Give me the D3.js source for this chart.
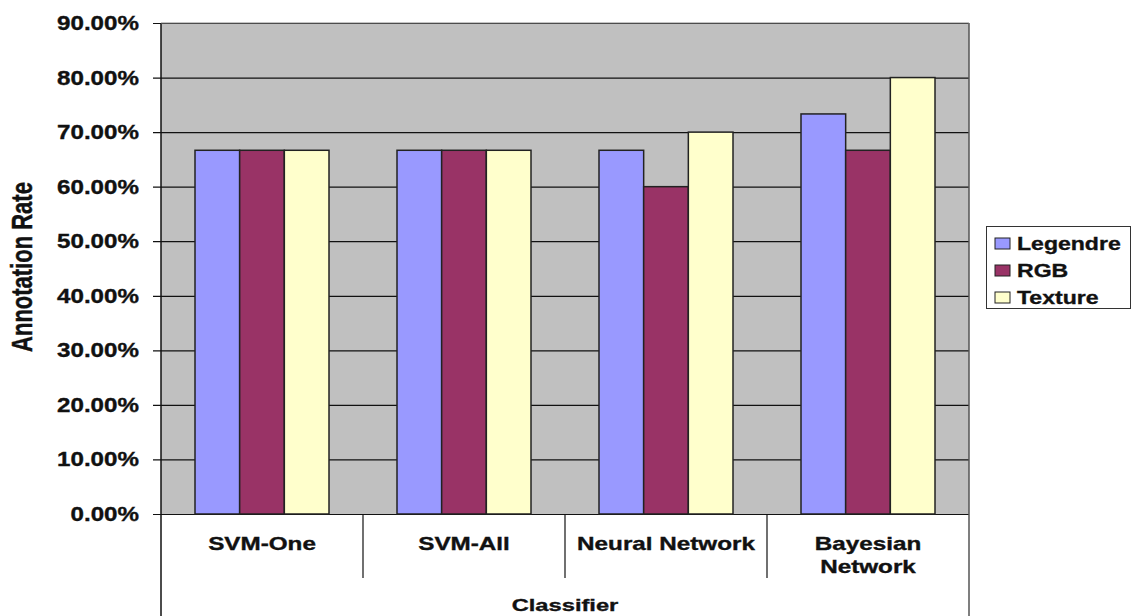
<!DOCTYPE html>
<html>
<head>
<meta charset="utf-8">
<script src="https://cdn.jsdelivr.net/npm/d3@7"></script>
<style>
  body { margin: 0; background: #fff; }
  text { font-family: Arial, "Liberation Sans", sans-serif; font-weight: bold; fill: #111; stroke: #111; stroke-width: 0.35px; }
</style>
</head>
<body>
<svg width="1132" height="616"></svg>
<script>
// chart data
var classifiers = [['SVM-One'], ['SVM-All'], ['Neural Network'], ['Bayesian', 'Network']];
var seriesNames = ['Legendre', 'RGB', 'Texture'];
var legendreVals = [66.67, 66.67, 66.67, 73.33];
var rgbVals = [66.67, 66.67, 60.0, 66.67];
var textureVals = [66.67, 66.67, 70.0, 80.0];
var yTicks = [0, 10, 20, 30, 40, 50, 60, 70, 80, 90];
var colors = ['#9999FF', '#993366', '#FFFFCC'];

var svg = d3.select('svg');
var plot = {l: 161, r: 969, t: 23, b: 514};

var seriesVals = [legendreVals, rgbVals, textureVals];
var keys = classifiers.map(function(c) { return c.join(' '); });

var x0 = d3.scaleBand().domain(keys).range([plot.l, plot.r]);
var x1 = d3.scaleBand().domain(seriesNames).range([34, x0.bandwidth() - 34]);
var y = d3.scaleLinear().domain([0, 90]).range([plot.b, plot.t]);

// plot background
svg.append('rect')
    .attr('x', plot.l).attr('y', plot.t)
    .attr('width', plot.r - plot.l).attr('height', plot.b - plot.t)
    .attr('fill', '#C0C0C0');

// gridlines + tick marks
svg.append('g')
    .selectAll('line')
    .data(yTicks)
    .enter()
    .append('line')
    .attr('x1', plot.l - 8).attr('x2', plot.r)
    .attr('y1', function(d) { return y(d) + 0.5; })
    .attr('y2', function(d) { return y(d) + 0.5; })
    .attr('stroke', '#111').attr('stroke-width', 1.2);

// y tick labels (original picture is stretched sideways, so text is widened)
svg.append('g')
    .selectAll('text')
    .data(yTicks)
    .enter()
    .append('text')
    .attr('transform', function(d) { return 'translate(139,' + y(d) + ') scale(1.24,1)'; })
    .attr('dy', '0.36em')
    .attr('text-anchor', 'end')
    .style('font-size', '19.5px')
    .text(function(d) { return d3.format('.2f')(d) + '%'; });

// bars
var groups = svg.append('g')
    .selectAll('g')
    .data(keys)
    .enter()
    .append('g')
    .attr('transform', function(d) { return 'translate(' + x0(d) + ',0)'; });

groups.selectAll('rect')
    .data(function(d, i) {
        return seriesNames.map(function(s, j) { return {series: s, j: j, value: seriesVals[j][i]}; });
    })
    .enter()
    .append('rect')
    .attr('x', function(d) { return x1(d.series); })
    .attr('width', x1.bandwidth())
    .attr('y', function(d) { return y(d.value); })
    .attr('height', function(d) { return y(0) - y(d.value); })
    .attr('fill', function(d) { return colors[d.j]; })
    .attr('stroke', '#222')
    .attr('stroke-width', 1.5);

// axes lines
svg.append('line').attr('x1', plot.l).attr('x2', plot.l).attr('y1', plot.t).attr('y2', 616)
    .attr('stroke', '#111').attr('stroke-width', 1.5);
svg.append('line').attr('x1', plot.r).attr('x2', plot.r).attr('y1', plot.t).attr('y2', 616)
    .attr('stroke', '#555').attr('stroke-width', 1.5);
svg.append('line').attr('x1', plot.l).attr('x2', plot.r).attr('y1', plot.t).attr('y2', plot.t)
    .attr('stroke', '#888').attr('stroke-width', 1);

// category separators
svg.append('g')
    .selectAll('line')
    .data(keys.slice(1))
    .enter()
    .append('line')
    .attr('x1', function(d) { return x0(d); })
    .attr('x2', function(d) { return x0(d); })
    .attr('y1', plot.b).attr('y2', 578)
    .attr('stroke', '#111').attr('stroke-width', 1.2);

// category labels
svg.append('g')
    .selectAll('text')
    .data(classifiers)
    .enter()
    .append('text')
    .attr('text-anchor', 'middle')
    .attr('transform', function(d, i) {
        return 'translate(' + (x0(keys[i]) + x0.bandwidth() / 2) + ',550) scale(1.37,1)';
    })
    .style('font-size', '17.7px')
    .each(function(d) {
        var t = d3.select(this);
        d.forEach(function(line, k) {
            t.append('tspan')
                .attr('x', 0)
                .attr('dy', k === 0 ? 0 : 23)
                .text(line);
        });
    });

// axis titles
svg.append('text')
    .attr('transform', 'translate(' + (plot.l + plot.r) / 2 + ',611) scale(1.37,1)')
    .attr('text-anchor', 'middle')
    .style('font-size', '17.3px')
    .text('Classifier');

svg.append('text')
    .attr('transform', 'translate(21.5,267) rotate(-90) scale(1,1.38)')
    .attr('text-anchor', 'middle')
    .attr('dy', '0.36em')
    .style('font-size', '22px')
    .text('Annotation Rate');

// legend
var legend = svg.append('g').attr('transform', 'translate(986.5,226.5)');
legend.append('rect')
    .attr('width', 144).attr('height', 82)
    .attr('fill', '#fff').attr('stroke', '#333').attr('stroke-width', 1);

var items = legend.selectAll('g')
    .data(seriesNames)
    .enter()
    .append('g')
    .attr('transform', function(d, i) { return 'translate(0,' + (17 + i * 27) + ')'; });

items.append('rect')
    .attr('x', 8.5).attr('y', -5.5)
    .attr('width', 15).attr('height', 11)
    .attr('fill', function(d, i) { return colors[i]; })
    .attr('stroke', '#222').attr('stroke-width', 1);

items.append('text')
    .attr('transform', 'translate(30.5,0) scale(1.24,1)')
    .attr('dy', '0.36em')
    .style('font-size', '18.6px')
    .text(function(d) { return d; });
</script>
</body>
</html>
